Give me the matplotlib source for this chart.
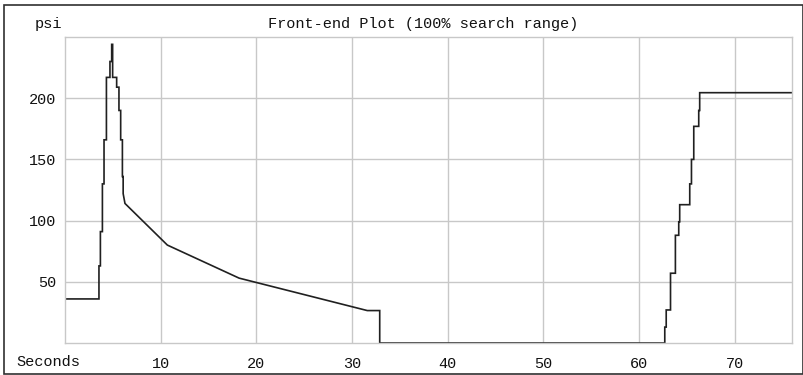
"""Front-end pressure plot (psi vs seconds)."""

import matplotlib

matplotlib.use("Agg")
import matplotlib.pyplot as plt
from matplotlib.patches import Rectangle

# data, vertical steps written as repeated x values
seconds = [
    0, 3.55, 3.55, 3.70, 3.70, 3.91, 3.91, 4.08, 4.08, 4.33, 4.33, 4.70,
    4.70, 4.88, 4.88, 4.98, 4.98, 5.40, 5.40, 5.64, 5.64, 5.82, 5.82, 6.00,
    6.00, 6.08, 6.08, 6.27, 10.7, 18.2, 31.6, 32.9, 32.9, 62.7, 62.7, 62.85,
    62.85, 63.3, 63.3, 63.81, 63.81, 64.16, 64.16, 64.26, 64.26, 65.31,
    65.31, 65.49, 65.49, 65.73, 65.73, 66.25, 66.25, 66.35, 66.35, 76,
]
psi = [
    36, 36, 63, 63, 91, 91, 130, 130, 166, 166, 217, 217,
    230, 230, 244, 244, 217, 217, 209, 209, 190, 190, 166, 166,
    136, 136, 122, 114, 80, 53, 26.5, 26.5, 0, 0, 13, 13,
    27, 27, 57, 57, 88, 88, 99, 99, 113, 113,
    130, 130, 150, 150, 177, 177, 190, 190, 204.5, 204.5,
]

x_ticks = [10, 20, 30, 40, 50, 60, 70]
y_ticks = [50, 100, 150, 200]

W, H = 804, 375
FONT = ["Liberation Mono", "DejaVu Sans Mono"]
GRID = "#c8c8c8"


def px(x, y):
    """pixel coords (from top-left) -> figure fraction"""
    return x / W, 1 - y / H


def main():
    fig = plt.figure(figsize=(W / 100, H / 100), dpi=100)
    fig.patch.set_facecolor("white")

    left, top = px(65, 37)
    right, bottom = px(792, 343)
    ax = fig.add_axes([left, bottom, right - left, top - bottom])

    ax.plot(seconds, psi, color="#202020", lw=1.2, solid_joinstyle="miter")

    ax.set_xlim(0, 76)
    ax.set_ylim(0, 250)
    ax.set_xticks(x_ticks)
    ax.set_yticks(y_ticks)
    ax.grid(True, color=GRID, lw=1.0)
    ax.set_axisbelow(True)
    for s in ax.spines.values():
        s.set_color(GRID)
        s.set_linewidth(1.0)

    ax.tick_params(length=0, labelsize=11, colors="#111111")
    ax.tick_params(axis="x", pad=10)
    ax.tick_params(axis="y", pad=6)
    for lab in ax.get_xticklabels() + ax.get_yticklabels():
        lab.set_family(FONT)

    fig.text(*px(48, 24), "psi", ha="center", va="center",
             family=FONT, fontsize=11, color="#111111")
    fig.text(*px(48, 362), "Seconds", ha="center", va="center",
             family=FONT, fontsize=11, color="#111111")
    fig.text(*px(423, 24), "Front-end Plot (100% search range)",
             ha="center", va="center", family=FONT, fontsize=11,
             color="#111111")

    # outer frame around the whole picture
    x0, y0 = px(4.5, 374)
    x1, y1 = px(803, 4.5)
    fig.patches.append(Rectangle((x0, y0), x1 - x0, y1 - y0,
                                 transform=fig.transFigure, fill=False,
                                 edgecolor="#303030", lw=1.2))

    fig.savefig("out.png", dpi=100)
    plt.close(fig)


if __name__ == "__main__":
    main()
